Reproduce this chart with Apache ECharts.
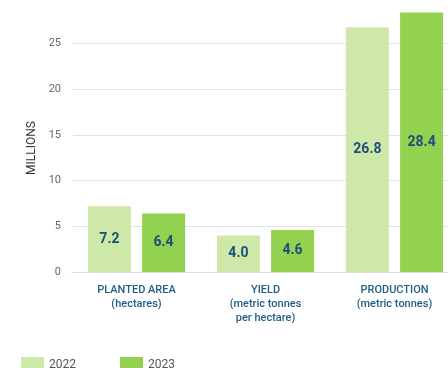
<!DOCTYPE html>
<html><head><meta charset="utf-8">
<script src="https://cdn.jsdelivr.net/npm/echarts@6/dist/echarts.min.js"></script>
<style>html,body{margin:0;padding:0;background:#fff}#c{width:448px;height:368px}</style>
</head><body><div id="c"></div>
<script>
var categories = ['PLANTED AREA\n(hectares)', 'YIELD\n(metric tonnes\nper hectare)', 'PRODUCTION\n(metric tonnes)'];
var seriesNames = ['2022', '2023'];
var v2022 = [7.2, 4.0, 26.8];
var v2023 = [6.4, 4.6, 28.4];
var yTicks = [0, 5, 10, 15, 20, 25];
var yName = 'MILLIONS';

var chart = echarts.init(document.getElementById('c'), null, {renderer: 'canvas'});
var labelStyle = {show: true, position: 'inside', color: '#1d4f78', fontSize: 14, fontWeight: 'bold', fontFamily: 'Roboto', formatter: function(p){return p.value.toFixed(1);}};
chart.setOption({
  animation: false,
  grid: {show: false, left: 72, width: 387, top: -2, height: 274, outerBoundsMode: 'none', containLabel: false},
  legend: {
    left: 16, top: 352, itemWidth: 23, itemHeight: 16, itemGap: 44,
    icon: 'rect',
    textStyle: {color: '#555', fontSize: 12, fontFamily: 'Roboto', padding: [0, 0, 0, 0]},
    data: seriesNames
  },
  graphic: [{
    type: 'text', x: 32, y: 148, rotation: Math.PI / 2,
    style: {text: yName, fill: '#333', fontSize: 12, fontFamily: 'Roboto', align: 'center', verticalAlign: 'middle'}
  }],
  xAxis: {
    type: 'category', data: categories,
    axisTick: {show: false},
    splitLine: {show: false},
    axisLine: {lineStyle: {color: '#dcdcdc', width: 1}},
    axisLabel: {color: '#1f5e86', fontSize: 11, fontFamily: 'Roboto', fontWeight: 500, lineHeight: 14, margin: 11, interval: 0}
  },
  yAxis: {
    type: 'value', min: 0, max: 30, interval: 5,
    axisLabel: {color: '#666', fontSize: 11, fontFamily: 'Roboto', margin: 11, showMaxLabel: false,
      formatter: function(v){return yTicks.indexOf(v) >= 0 ? String(v) : '';}},
    splitLine: {lineStyle: {color: '#e2e2e2', width: 1}},
    axisLine: {show: true, lineStyle: {color: '#ffffff', width: 2}}, axisTick: {show: false}
  },
  series: [
    {name: seriesNames[0], type: 'bar', data: v2022, barWidth: 43, barGap: '26%', itemStyle: {color: '#cde8a9'}, label: labelStyle},
    {name: seriesNames[1], type: 'bar', data: v2023, barWidth: 43, itemStyle: {color: '#93d150'}, label: labelStyle}
  ]
});
</script></body></html>
